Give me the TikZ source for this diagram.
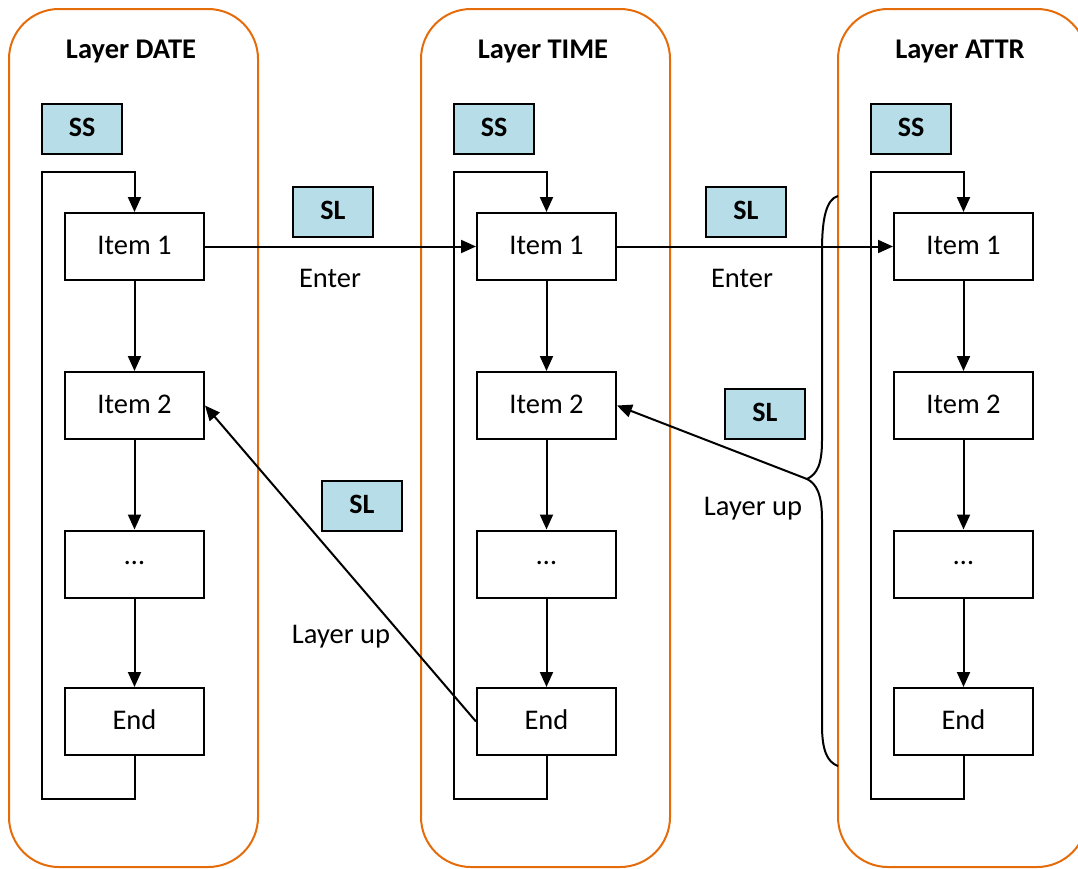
\documentclass[tikz,border=0pt]{standalone}
\usepackage{fontspec}
\setmainfont{Carlito}
\usetikzlibrary{arrows.meta}
\definecolor{lorange}{HTML}{E46C0A}
\definecolor{lblue}{HTML}{B7DEE8}
\newcommand{\up}[1]{\raisebox{3pt}{#1}}
\begin{document}
\begin{tikzpicture}[x=1pt,y=-1pt,line width=2pt,
  layer/.style={draw=lorange,line width=2pt,rounded corners=50pt},
  item/.style={draw,line width=2pt,minimum width=139pt,minimum height=67pt,inner sep=0pt,font=\fontsize{28.5}{32}\selectfont},
  tag/.style={draw,line width=2pt,fill=lblue,minimum width=80pt,minimum height=50pt,inner sep=0pt,font=\bfseries\fontsize{28}{32}\selectfont},
  title/.style={font=\bfseries\fontsize{28.5}{32}\selectfont},
  lbl/.style={font=\fontsize{28.5}{32}\selectfont},
  arr/.style={line width=2pt,-{Triangle[length=15pt,width=13pt]}}]
\useasboundingbox (0,0) rectangle (1078,868);
\begin{scope}
\clip (0,0) rectangle (1078,868);
\foreach \n/\o/\t in {D/0/DATE,T/412/TIME,A/829/ATTR}{
  \draw[layer] (\o+9,9) rectangle (\o+258,867);
  \node[title] (t-\n) at (\o+131,51) {Layer \t};
  \node[tag] (ss-\n) at (\o+82,128.5) {\up{SS}};
  \node[item] (i1-\n) at (\o+134.5,246.5) {\up{Item 1}};
  \node[item] (i2-\n) at (\o+134.5,405.5) {\up{Item 2}};
  \node[item] (i3-\n) at (\o+134.5,564) {\up{\dots}};
  \node[item] (e-\n) at (\o+134.5,721.5) {\up{End}};
  \draw[arr] (i1-\n) -- (i2-\n);
  \draw[arr] (i2-\n) -- (i3-\n);
  \draw[arr] (i3-\n) -- (e-\n);
  \draw[arr] (e-\n.south) -- ++(0,43) -| (\o+42,172) -| (i1-\n.north);
}
\end{scope}
\node[tag] (sl1) at (333,212) {\up{SL}};
\node[tag] (sl2) at (746,212) {\up{SL}};
\node[tag] (sl3) at (765,414) {\up{SL}};
\node[tag] (sl4) at (362,506) {\up{SL}};
\node[lbl] (en1) at (330,278) {Enter};
\node[lbl] (en2) at (742,278) {Enter};
\node[lbl] (lu1) at (341,637) {Layer up};
\node[lbl] (lu2) at (753,509) {Layer up};
\draw[arr] (i1-D.east) -- (i1-T.west);
\draw[arr] (i1-T.east) -- (i1-A.west);
\draw[arr] (e-T.west) -- (i2-D.east);
\coordinate (bt) at (807,479);
\coordinate (btop) at (838,196);
\coordinate (bbot) at (838,766);
\draw (btop) .. controls (826,199) and (822,220) .. (822,250) -- (822,440)
  .. controls (822,465) and (817,474) .. (bt)
  .. controls (817,484) and (822,495) .. (822,520) -- (822,725)
  .. controls (822,750) and (827,762) .. (bbot);
\draw[arr] (bt) -- (i2-T.east);
\end{tikzpicture}
\end{document}
